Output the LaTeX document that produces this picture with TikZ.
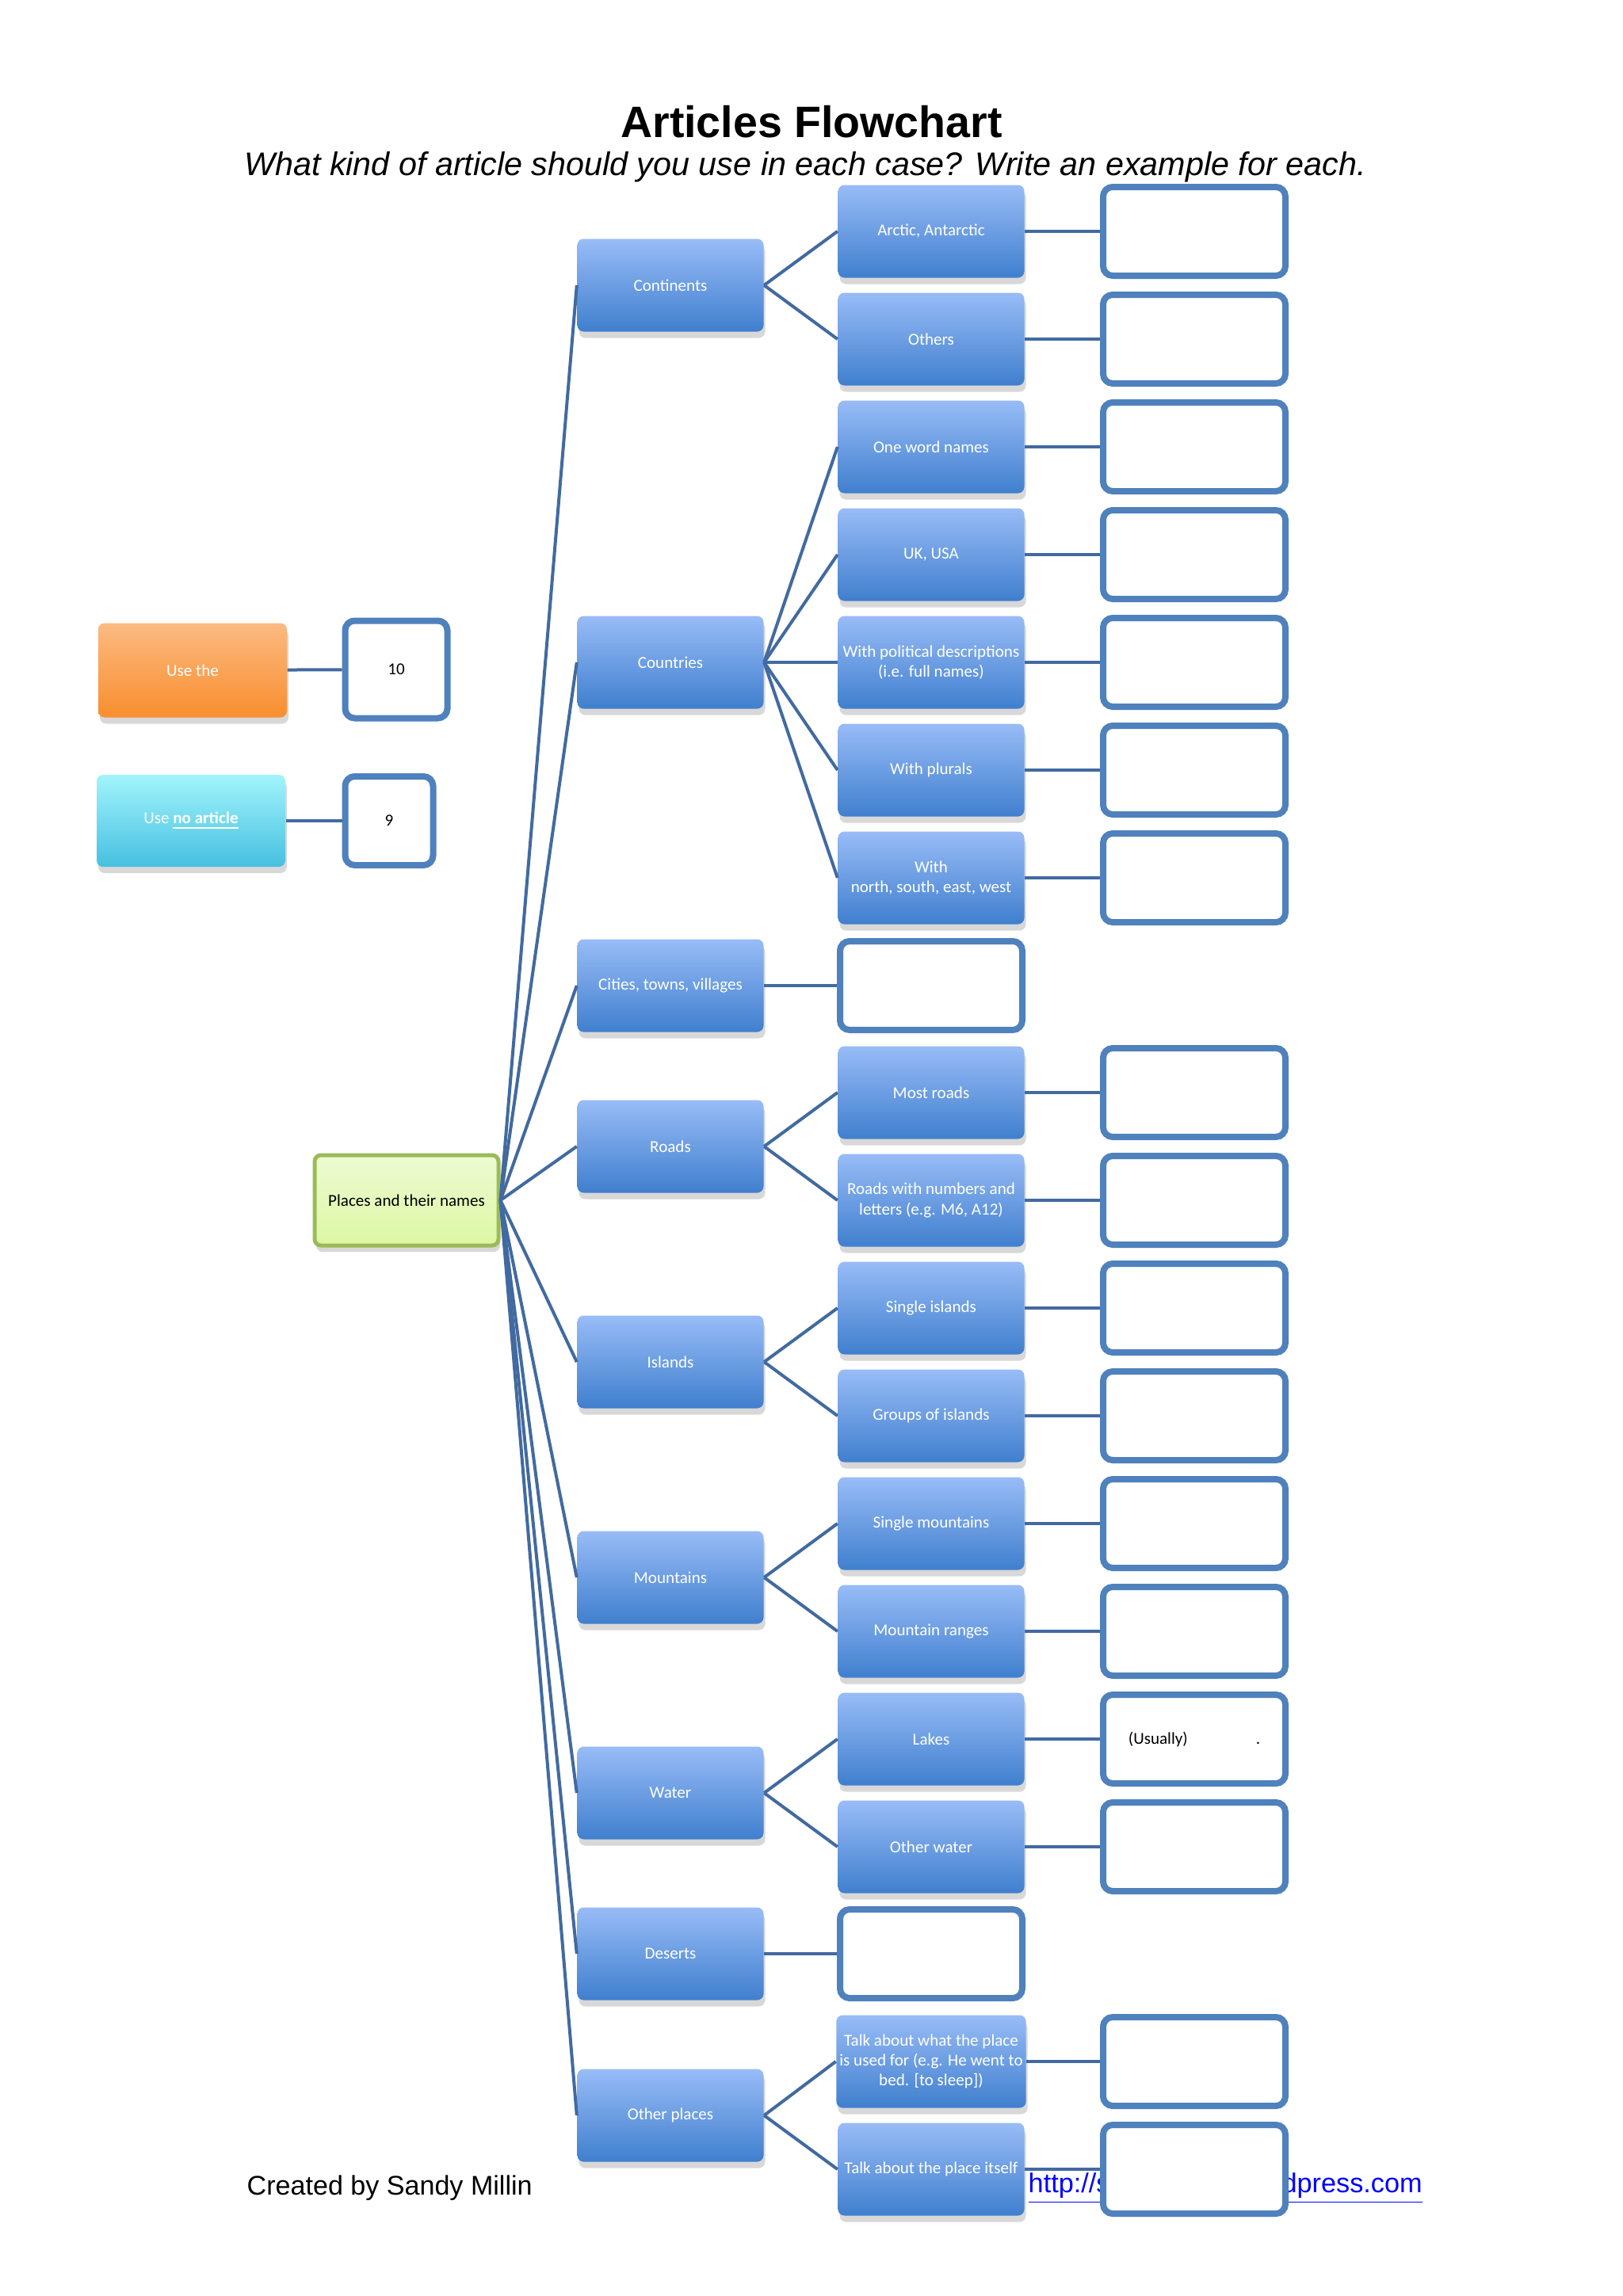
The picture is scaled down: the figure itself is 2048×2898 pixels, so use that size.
\documentclass[tikz,border=0pt]{standalone}
\usepackage{fontspec}
\setmainfont{Liberation Sans}
\newfontfamily\boxfont{Carlito}
\usepackage{tikz}
\usetikzlibrary{shadows}
\definecolor{boxtop}{RGB}{152,188,247}
\definecolor{boxbot}{RGB}{64,127,206}
\definecolor{ansblue}{RGB}{79,129,189}
\definecolor{linkblue}{RGB}{66,106,160}
\definecolor{orgtop}{RGB}{251,186,130}
\definecolor{orgbot}{RGB}{249,142,46}
\definecolor{cyntop}{RGB}{162,244,252}
\definecolor{cynbot}{RGB}{70,192,224}
\definecolor{grntop}{RGB}{237,251,210}
\definecolor{grnbot}{RGB}{221,247,164}
\definecolor{grnline}{RGB}{155,187,89}
\definecolor{urlblue}{RGB}{0,0,255}
\tikzset{
  catbox/.style={rounded corners=0.8mm, top color=boxtop, bottom color=boxbot, text=white,
    font=\boxfont\fontsize{6}{7.2}\selectfont, align=center, minimum width=23.5mm,
    minimum height=11.7mm, inner sep=0.4mm,
    drop shadow={opacity=0.3, shadow xshift=0.2mm, shadow yshift=-0.8mm}},
  ansbox/.style={draw=ansblue, line width=0.8mm, rounded corners=1.2mm, fill=white,
    minimum width=23mm, minimum height=11.2mm, font=\boxfont\fontsize{6}{7.2}\selectfont},
  link/.style={draw=linkblue, line width=0.4mm},
}
\begin{document}
\begin{tikzpicture}[x=0.1mm,y=-0.1mm]
\useasboundingbox[fill=white] (0,0) rectangle (2048,2898);
\node[inner sep=0] (title) at (1024,154) {\fontsize{15.8}{19}\selectfont\bfseries Articles Flowchart};
\node[inner sep=0] (subtitle) at (1016,211) {\fontsize{11.75}{14}\selectfont\itshape What kind of article should you use in each case? Write an example for each.};
\node[inner sep=0,anchor=west] (credit) at (311,2762) {\fontsize{9.7}{12}\selectfont Created by Sandy Millin};
\node[inner sep=0,anchor=west,text=urlblue] (url) at (1297,2762) {\fontsize{9.75}{12}\selectfont\underline{http://sandymillin.wordpress.com}};
\node[catbox, top color=orgtop, bottom color=orgbot, minimum width=23.8mm, minimum height=11.9mm] (usethe) at (243,846) {Use the};
\node[ansbox, minimum width=12.9mm, minimum height=12.3mm] (ten) at (500,845) {10};
\node[catbox, top color=cyntop, bottom color=cynbot, minimum width=23.8mm, minimum height=11.6mm] (noart) at (241,1036) {Use \underline{\textbf{no article}}};
\node[ansbox, minimum width=11.1mm, minimum height=11.2mm] (nine) at (491,1036) {9};
\node[rounded corners=0.8mm, draw=grnline, line width=0.5mm, top color=grntop, bottom color=grnbot,
  minimum width=23.2mm, minimum height=11.4mm, font=\boxfont\fontsize{6}{7.2}\selectfont,
  drop shadow={opacity=0.3, shadow xshift=0.2mm, shadow yshift=-0.8mm}] (places) at (513,1515) {Places and their names};
\node[catbox] (cont) at (846,360) {Continents};
\node[catbox] (ctry) at (846,836) {Countries};
\node[catbox] (city) at (846,1244) {Cities, towns, villages};
\node[catbox] (road) at (846,1447) {Roads};
\node[catbox] (isl) at (846,1719) {Islands};
\node[catbox] (mnt) at (846,1991) {Mountains};
\node[catbox] (wat) at (846,2263) {Water};
\node[catbox] (des) at (846,2466) {Deserts};
\node[catbox] (othp) at (846,2670) {Other places};
\node[catbox] (arc) at (1175,292) {Arctic, Antarctic};
\node[catbox] (othc) at (1175,428) {Others};
\node[catbox] (one) at (1175,564) {One word names};
\node[catbox] (ukusa) at (1175,700) {UK, USA};
\node[catbox] (pol) at (1175,836) {With political descriptions\\(i.e. full names)};
\node[catbox] (plu) at (1175,972) {With plurals};
\node[catbox] (nsew) at (1175,1108) {With\\north, south, east, west};
\node[catbox] (most) at (1175,1379) {Most roads};
\node[catbox] (num) at (1175,1515) {Roads with numbers and\\letters (e.g. M6, A12)};
\node[catbox] (sisl) at (1175,1651) {Single islands};
\node[catbox] (gisl) at (1175,1787) {Groups of islands};
\node[catbox] (smnt) at (1175,1923) {Single mountains};
\node[catbox] (rng) at (1175,2059) {Mountain ranges};
\node[catbox] (lak) at (1175,2195) {Lakes};
\node[catbox] (owat) at (1175,2331) {Other water};
\node[catbox] (used) at (1175,2602) {Talk about what the place\\is used for (e.g. He went to\\bed. [to sleep])};
\node[catbox] (itself) at (1175,2738) {Talk about the place itself};
\node[ansbox] (acity) at (1175,1244) {};
\node[ansbox] (ades) at (1175,2466) {};
\coordinate (ax) at (1507,0);
\foreach \n in {arc,othc,one,ukusa,pol,plu,nsew,most,num,sisl,gisl,smnt,rng,owat,used,itself}{
\node[ansbox] (a\n) at (\n -| ax) {};
\draw[link] (\n.east) -- (a\n.west);
}
\node[ansbox] (alak) at (lak -| ax) {(Usually)\hspace{8.6mm}.};
\draw[link] (lak.east) -- (alak.west);
\foreach \n in {cont,ctry,city,road,isl,mnt,wat,des,othp}
\draw[link] (places.east) -- (\n.west);
\draw[link] (cont.east) -- (arc.west);
\draw[link] (cont.east) -- (othc.west);
\foreach \n in {one,ukusa,pol,plu,nsew}
\draw[link] (ctry.east) -- (\n.west);
\draw[link] (city.east) -- (acity.west);
\draw[link] (road.east) -- (most.west);
\draw[link] (road.east) -- (num.west);
\draw[link] (isl.east) -- (sisl.west);
\draw[link] (isl.east) -- (gisl.west);
\draw[link] (mnt.east) -- (smnt.west);
\draw[link] (mnt.east) -- (rng.west);
\draw[link] (wat.east) -- (lak.west);
\draw[link] (wat.east) -- (owat.west);
\draw[link] (des.east) -- (ades.west);
\draw[link] (othp.east) -- (used.west);
\draw[link] (othp.east) -- (itself.west);
\draw[link] (usethe) -- (ten);
\draw[link] (noart) -- (nine);
\end{tikzpicture}
\end{document}
